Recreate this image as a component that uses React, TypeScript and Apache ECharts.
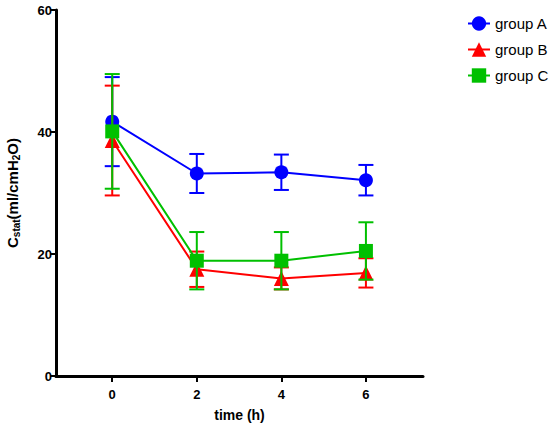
import React, { useEffect, useRef } from "react";
import * as echarts from "echarts";

const times = [0, 2, 4, 6];
const tickValues = [0, 2, 4, 6];
const groupNames = ["group A", "group B", "group C"];
const groupColors = ["#0000FF", "#FF0000", "#00C000"];
const groupSymbols = ["circle", "triangle", "rect"];

const meanA = [41.7, 33.2, 33.4, 32.1];
const sdA = [7.3, 3.2, 2.9, 2.5];
const meanB = [38.6, 17.5, 16.0, 16.9];
const sdB = [9.0, 2.9, 1.8, 2.4];
const meanC = [40.1, 18.9, 18.9, 20.5];
const sdC = [9.4, 4.7, 4.7, 4.7];

const means = [meanA, meanB, meanC];
const sds = [sdA, sdB, sdC];

const FONT = "Arial, 'Liberation Sans', sans-serif";

const App: React.FC = () => {
  const chartRef = useRef<HTMLDivElement>(null);

  useEffect(() => {
    document.body.style.margin = "0";
    if (!chartRef.current) return;
    const chart = echarts.init(chartRef.current, undefined, { renderer: "svg" });

    const series: any[] = [];
    groupNames.forEach((name, g) => {
      const color = groupColors[g];
      series.push({
        name: name + " SD",
        type: "custom",
        z: 2 + g * 2,
        data: times.map((t, i) => [t, means[g][i] - sds[g][i], means[g][i] + sds[g][i]]),
        renderItem: (params: any, api: any) => {
          const lo = api.coord([api.value(0), api.value(1)]);
          const hi = api.coord([api.value(0), api.value(2)]);
          const half = 7.5;
          const style = { stroke: color, lineWidth: 2 };
          return {
            type: "group",
            children: [
              { type: "line", shape: { x1: lo[0], y1: lo[1], x2: hi[0], y2: hi[1] }, style },
              { type: "line", shape: { x1: lo[0] - half, y1: lo[1], x2: lo[0] + half, y2: lo[1] }, style },
              { type: "line", shape: { x1: hi[0] - half, y1: hi[1], x2: hi[0] + half, y2: hi[1] }, style },
            ],
          };
        },
      });
      series.push({
        name,
        type: "line",
        z: 3 + g * 2,
        data: times.map((t, i) => [t, means[g][i]]),
        symbol: groupSymbols[g],
        symbolSize: g === 1 ? 15 : 14,
        lineStyle: { color, width: 2 },
        itemStyle: { color },
      });
    });

    chart.setOption({
      animation: false,
      grid: { left: 56, top: 10, width: 367, height: 366, outerBoundsMode: "none" },
      legend: {
        data: groupNames,
        orient: "vertical",
        left: 462,
        top: 11,
        itemWidth: 22,
        itemHeight: 18,
        itemGap: 11,
        textStyle: { fontFamily: FONT, fontSize: 15, color: "#000" },
      },
      xAxis: {
        type: "value",
        min: -1.33,
        max: 7.35,
        name: "time (h)",
        nameLocation: "middle",
        nameGap: 32,
        nameTextStyle: { fontFamily: FONT, fontSize: 14, fontWeight: "bold", color: "#000" },
        axisLine: { show: true, onZero: false, lineStyle: { color: "#000", width: 3 } },
        axisTick: { show: true, customValues: tickValues, length: 6, lineStyle: { color: "#000", width: 2 } },
        axisLabel: {
          customValues: tickValues,
          fontFamily: FONT,
          fontSize: 13,
          fontWeight: "bold",
          color: "#000",
          margin: 12,
        },
        splitLine: { show: false },
      },
      yAxis: {
        type: "value",
        min: 0,
        max: 60,
        interval: 20,
        name: "{a|C}{s|stat}{a|(ml/cmH}{s|2}{a|O)}",
        nameLocation: "middle",
        nameGap: 34,
        nameTextStyle: {
          rich: {
            a: { fontFamily: FONT, fontSize: 15, fontWeight: "bold", color: "#000", lineHeight: 20 },
            s: {
              fontFamily: FONT,
              fontSize: 10,
              fontWeight: "bold",
              color: "#000",
              lineHeight: 20,
              padding: [9, 0, 0, 0],
            },
          },
        },
        axisLine: { show: true, onZero: false, lineStyle: { color: "#000", width: 3 } },
        axisTick: { show: true, length: 6, lineStyle: { color: "#000", width: 2 } },
        axisLabel: { fontFamily: FONT, fontSize: 13, fontWeight: "bold", color: "#000", margin: 4 },
        splitLine: { show: false },
      },
      series,
    });

    return () => chart.dispose();
  }, []);

  return <div ref={chartRef} style={{ width: 550, height: 429 }} />;
};

export default App;
